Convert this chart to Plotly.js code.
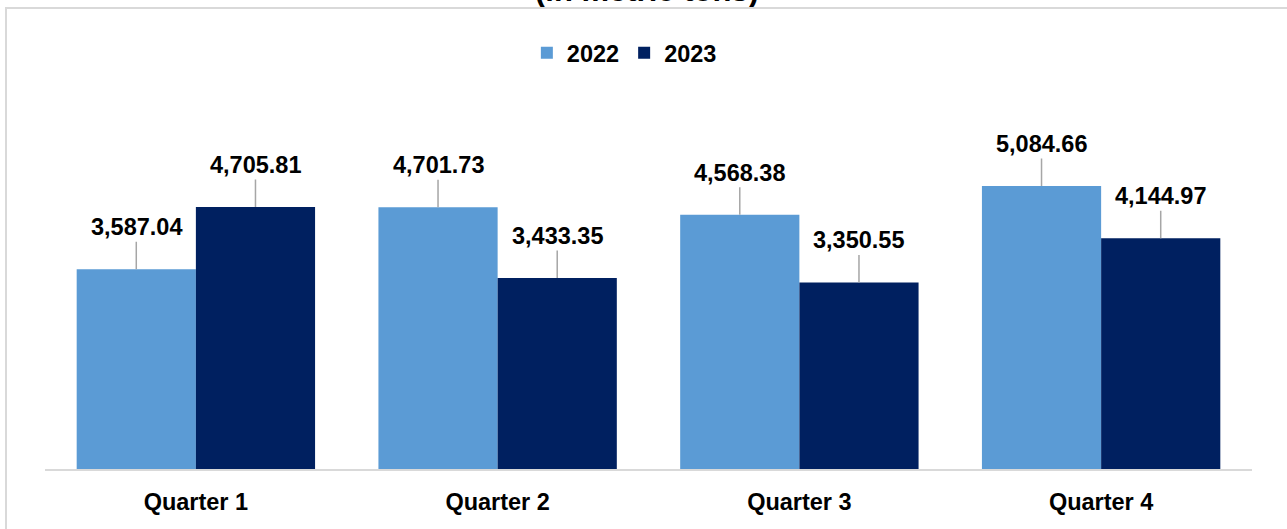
<!DOCTYPE html>
<html>
<head>
<meta charset="utf-8">
<script src="https://cdn.plot.ly/plotly-3.0.1.min.js"></script>
<style>
  html, body { margin: 0; padding: 0; background: #ffffff; }
  #wrap { position: relative; width: 1287px; height: 529px; overflow: hidden; }
  #chart { position: absolute; left: 0; top: 0; width: 1287px; height: 529px; }
  #frame { position: absolute; left: 5px; top: 7px; width: 1400px; height: 600px;
           border-left: 2px solid #d9d9d9; border-top: 2px solid #d9d9d9; pointer-events: none; }
</style>
</head>
<body>
<div id="wrap">
  <div id="chart"></div>
  <div id="frame"></div>
</div>
<script>
const categories = ['Quarter 1', 'Quarter 2', 'Quarter 3', 'Quarter 4'];
const seriesNames = ['2022', '2023'];
const values2022 = [3587.04, 4701.73, 4568.38, 5084.66];
const values2023 = [4705.81, 3433.35, 3350.55, 4144.97];
const titleText = '(in metric tons)';

const colors = ['#5B9BD5', '#002060'];
const allSeries = [values2022, values2023];
const FONT = 'Liberation Sans, Arial, sans-serif';

const fmt = v => v.toLocaleString('en-US', {minimumFractionDigits: 2, maximumFractionDigits: 2});

const traces = allSeries.map((vals, i) => ({
  type: 'bar',
  name: '<b>' + seriesNames[i] + '</b>',
  x: categories,
  y: vals,
  marker: { color: colors[i] },
  hoverinfo: 'x+y'
}));

const nS = allSeries.length;
const bargap = 0.21;
const groupW = 1 - bargap;
const barW = groupW / nS;
const annotations = [];
allSeries.forEach((vals, i) => {
  vals.forEach((v, j) => {
    const xPos = j - groupW / 2 + barW * (i + 0.5);
    annotations.push({
      x: xPos, y: v, xref: 'x', yref: 'y',
      text: '<b>' + fmt(v) + '</b>',
      showarrow: true, arrowhead: 0, arrowwidth: 1.5, arrowcolor: '#a6a6a6',
      ax: 0, ay: -42, standoff: 0,
      font: { family: FONT, size: 23.5, color: '#000000' }
    });
  });
});

// chart title (only its lower edge is visible at the top of the frame)
annotations.push({
  xref: 'paper', yref: 'paper', x: 0.499, y: 1.434,
  xanchor: 'center', yanchor: 'middle', showarrow: false,
  text: '<b>' + titleText + '</b>',
  font: { family: FONT, size: 31, color: '#000000' }
});

const layout = {
  width: 1287, height: 529,
  margin: { l: 45, r: 35, t: 135, b: 60 },
  paper_bgcolor: 'rgba(0,0,0,0)',
  plot_bgcolor: 'rgba(0,0,0,0)',
  barmode: 'group',
  bargap: bargap,
  bargroupgap: 0,
  showlegend: true,
  legend: {
    orientation: 'h', x: 0.48, xanchor: 'center', y: 1.2455, yanchor: 'middle',
    font: { family: FONT, size: 23.5, color: '#000000' },
    itemwidth: 30, traceorder: 'normal'
  },
  xaxis: {
    type: 'category',
    showline: true, linecolor: '#d9d9d9', linewidth: 2,
    ticks: '', showgrid: false, zeroline: false,
    tickfont: { family: FONT, size: 23.5, color: '#000000' },
    ticklabelstandoff: 11,
    tickvals: categories,
    ticktext: categories.map(c => '<b>' + c + '</b>')
  },
  yaxis: {
    visible: false, range: [0, 6000], showgrid: false, zeroline: false
  },
  annotations: annotations
};

Plotly.newPlot('chart', traces, layout, { displayModeBar: false, staticPlot: true });
</script>
</body>
</html>
